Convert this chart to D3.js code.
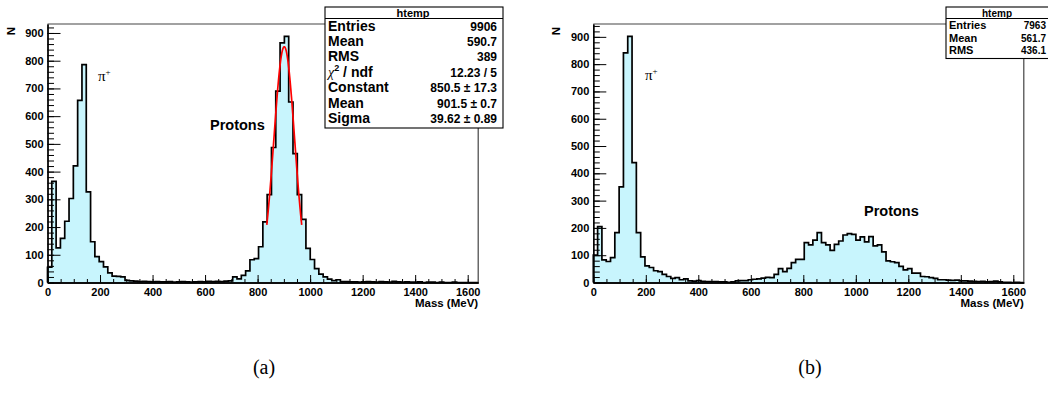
<!DOCTYPE html>
<html>
<head>
<meta charset="utf-8">
<script src="https://cdn.jsdelivr.net/npm/d3@7"></script>
<style>
  body { margin: 0; background: #fff; }
  svg { display: block; }
  .axis .tick text { font-family: "Liberation Sans", Arial, sans-serif; font-weight: bold; font-size: 11px; fill: #000; }
  .axis path, .axis line { stroke: #000; }
  .lbl { font-family: "Liberation Sans", Arial, sans-serif; font-weight: bold; fill: #000; }
  .sym { font-family: "Liberation Serif", "DejaVu Serif", serif; fill: #000; }
</style>
</head>
<body>
<svg id="fig" width="1048" height="394"></svg>
<script>
// Histogram binning (100 bins over the mass range, MeV)
const nBins = 100;
const massMin = 0;
const massMax = 1640;

// Counts per bin, panel (a)
const countsA = [
  55, 365, 125, 159, 221, 303, 421, 657, 786, 327,
  147, 93, 75, 56, 35, 23, 22, 20, 8, 6,
  5, 3, 4, 3, 2, 3, 2, 2, 3, 1,
  2, 3, 2, 1, 2, 3, 2, 4, 3, 4,
  3, 5, 6, 20, 13, 26, 42, 82, 86, 129,
  219, 317, 487, 690, 864, 888, 651, 465, 317, 228,
  123, 83, 50, 30, 20, 12, 7, 10, 3, 3,
  2, 2, 1, 2, 3, 2, 1, 3, 2, 1,
  4, 2, 1, 2, 1, 1, 2, 0, 1, 1,
  0, 1, 0, 0, 1, 0, 0, 0, 0, 0
];

// Counts per bin, panel (b)
const countsB = [
  100, 205, 83, 77, 91, 183, 350, 841, 902, 439,
  183, 94, 61, 55, 43, 40, 30, 22, 15, 18,
  10, 13, 6, 5, 7, 4, 3, 3, 3, 2,
  2, 1, 2, 6, 7, 7, 10, 12, 13, 16,
  19, 18, 30, 51, 40, 52, 73, 85, 85, 146,
  138, 155, 183, 146, 138, 118, 140, 152, 174, 179,
  176, 155, 167, 149, 168, 134, 138, 112, 79, 76,
  73, 59, 46, 51, 34, 34, 22, 21, 18, 15,
  10, 10, 9, 8, 9, 6, 6, 5, 4, 3,
  4, 2, 3, 5, 2, 1, 1, 0, 1, 0
];

// Axis ticks
const xTicks = [0, 200, 400, 600, 800, 1000, 1200, 1400, 1600];
const xMinorTicks = d3.range(0, 1641, 50);
const yTicks = [0, 100, 200, 300, 400, 500, 600, 700, 800, 900];
const yMinorTicks = d3.range(0, 941, 20);

// Statistics boxes
const statsLabelsA = ["Entries", "Mean", "RMS", "chi2", "Constant", "Mean", "Sigma"];
const statsValuesA = ["9906", "590.7", "389", "12.23 / 5", "850.5 \u00b1 17.3", "901.5 \u00b1 0.7", "39.62 \u00b1 0.89"];
const statsLabelsB = ["Entries", "Mean", "RMS"];
const statsValuesB = ["7963", "561.7", "436.1"];

// Gaussian fit to the proton peak in (a)
const fitConstant = 850.5;
const fitMean = 901.5;
const fitSigma = 39.62;
const fitRange = [835, 968];

const svg = d3.select("#fig");
const binEdges = d3.range(nBins + 1).map(i => massMin + i * (massMax - massMin) / nBins);

function drawPanel(p) {
  const g = svg.append("g");
  const x = d3.scaleLinear().domain([massMin, massMax]).range([p.left, p.right]);
  const ymax = 1.05 * d3.max(p.counts);
  const y = d3.scaleLinear().domain([0, ymax]).range([p.bottom, p.top]);

  // Step outline of the histogram
  const pts = [[binEdges[0], 0]];
  p.counts.forEach((c, i) => { pts.push([binEdges[i], c]); pts.push([binEdges[i + 1], c]); });
  pts.push([binEdges[nBins], 0]);

  g.append("path")
    .attr("d", d3.area().x(d => x(d[0])).y0(y(0)).y1(d => y(d[1]))(pts))
    .attr("fill", "#c8f5fd");
  g.append("path")
    .attr("d", d3.line().x(d => x(d[0])).y(d => y(d[1]))(pts))
    .attr("fill", "none").attr("stroke", "#000").attr("stroke-width", 1.7)
    .attr("stroke-linejoin", "miter");

  if (p.fit) {
    const gauss = m => fitConstant * Math.exp(-0.5 * Math.pow((m - fitMean) / fitSigma, 2));
    const fx = d3.range(fitRange[0], fitRange[1] + 0.01, 1);
    g.append("path")
      .attr("d", d3.line().x(m => x(m)).y(m => y(gauss(m)))(fx))
      .attr("fill", "none").attr("stroke", "#ff0000").attr("stroke-width", 1.7);
  }

  // Frame top and right edges
  g.append("path")
    .attr("d", `M${p.left},${p.top}H${p.right}V${p.bottom}`)
    .attr("fill", "none").attr("stroke", "#444").attr("stroke-width", 1.2);

  // X axis: major and minor ticks pointing into the frame
  g.append("g").attr("class", "axis").attr("transform", `translate(0,${p.bottom})`)
    .call(d3.axisBottom(x).tickValues(xMinorTicks).tickSize(-3.5).tickSizeOuter(0).tickFormat(""));
  g.append("g").attr("class", "axis").attr("transform", `translate(0,${p.bottom})`)
    .call(d3.axisBottom(x).tickValues(xTicks).tickSize(-7.5).tickSizeOuter(0).tickPadding(6).tickFormat(d3.format("d")));

  // Y axis
  g.append("g").attr("class", "axis").attr("transform", `translate(${p.left},0)`)
    .call(d3.axisLeft(y).tickValues(yMinorTicks.filter(v => v <= ymax)).tickSize(-6.5).tickSizeOuter(0).tickFormat(""));
  g.append("g").attr("class", "axis").attr("transform", `translate(${p.left},0)`)
    .call(d3.axisLeft(y).tickValues(yTicks).tickSize(-13).tickSizeOuter(0).tickPadding(4).tickFormat(d3.format("d")));
  g.selectAll(".axis path.domain").attr("stroke-width", 1.3);

  // Axis titles
  g.append("text").attr("class", "lbl").attr("font-size", 11.5)
    .attr("text-anchor", "end")
    .attr("transform", `translate(${p.left - 33},${p.top + 3}) rotate(-90)`)
    .text("N");
  g.append("text").attr("class", "lbl").attr("font-size", 11.5)
    .attr("text-anchor", "end").attr("x", p.right).attr("y", p.bottom + 24)
    .text("Mass (MeV)");

  // Peak annotations
  const pi = g.append("text").attr("class", "sym").attr("font-size", 15)
    .attr("x", p.piPos[0]).attr("y", p.piPos[1]).text("\u03c0");
  pi.append("tspan").attr("font-size", 9).attr("dy", -6).text("+");
  g.append("text").attr("class", "lbl").attr("font-size", 14.5)
    .attr("x", p.protonPos[0]).attr("y", p.protonPos[1]).text("Protons");

  // Stats box
  const b = p.box;
  g.append("rect").attr("x", b.x).attr("y", b.y).attr("width", b.w).attr("height", b.h)
    .attr("fill", "#fff").attr("stroke", "#000").attr("stroke-width", 1.1);
  g.append("line").attr("x1", b.x).attr("x2", b.x + b.w).attr("y1", b.headY).attr("y2", b.headY)
    .attr("stroke", "#000").attr("stroke-width", 1);
  g.append("text").attr("class", "lbl").attr("font-size", b.headSize)
    .attr("text-anchor", "middle").attr("x", b.headX).attr("y", b.headBase).text("htemp");
  p.labels.forEach((lab, i) => {
    const yy = b.row0 + i * b.dy;
    const t = g.append("text").attr("class", "lbl").attr("font-size", b.fs).attr("x", b.x + 3).attr("y", yy);
    if (lab === "chi2") {
      t.append("tspan").attr("class", "sym").attr("font-style", "italic").attr("font-weight", "normal").text("\u03c7");
      t.append("tspan").attr("font-size", b.fs * 0.65).attr("dy", -6).text("2");
      t.append("tspan").attr("dy", 6).text(" / ndf");
    } else {
      t.text(lab);
    }
    g.append("text").attr("class", "lbl").attr("font-size", b.vfs)
      .attr("text-anchor", "end").attr("x", b.valX).attr("y", yy).text(p.values[i]);
  });
}

drawPanel({
  left: 47.5, right: 478.2, top: 24, bottom: 282.5,
  counts: countsA, fit: true,
  piPos: [98, 81], protonPos: [210, 130],
  labels: statsLabelsA, values: statsValuesA,
  box: { x: 325, y: 7, w: 178, h: 121, headY: 18.5, headX: 413, headBase: 16.5, headSize: 11,
         row0: 30.5, dy: 15.4, fs: 14, vfs: 12, valX: 497 }
});

drawPanel({
  left: 593.3, right: 1023.8, top: 24, bottom: 282.5,
  counts: countsB, fit: false,
  piPos: [645, 80], protonPos: [864, 216],
  labels: statsLabelsB, values: statsValuesB,
  box: { x: 946, y: 7, w: 110, h: 51.5, headY: 18.5, headX: 997, headBase: 16.5, headSize: 10,
         row0: 29, dy: 12.6, fs: 11, vfs: 10, valX: 1046 }
});

// Panel captions
svg.append("text").attr("class", "sym").attr("font-size", 20).attr("text-anchor", "middle")
  .attr("x", 264).attr("y", 374).text("(a)");
svg.append("text").attr("class", "sym").attr("font-size", 20).attr("text-anchor", "middle")
  .attr("x", 810).attr("y", 374).text("(b)");
</script>
</body>
</html>
